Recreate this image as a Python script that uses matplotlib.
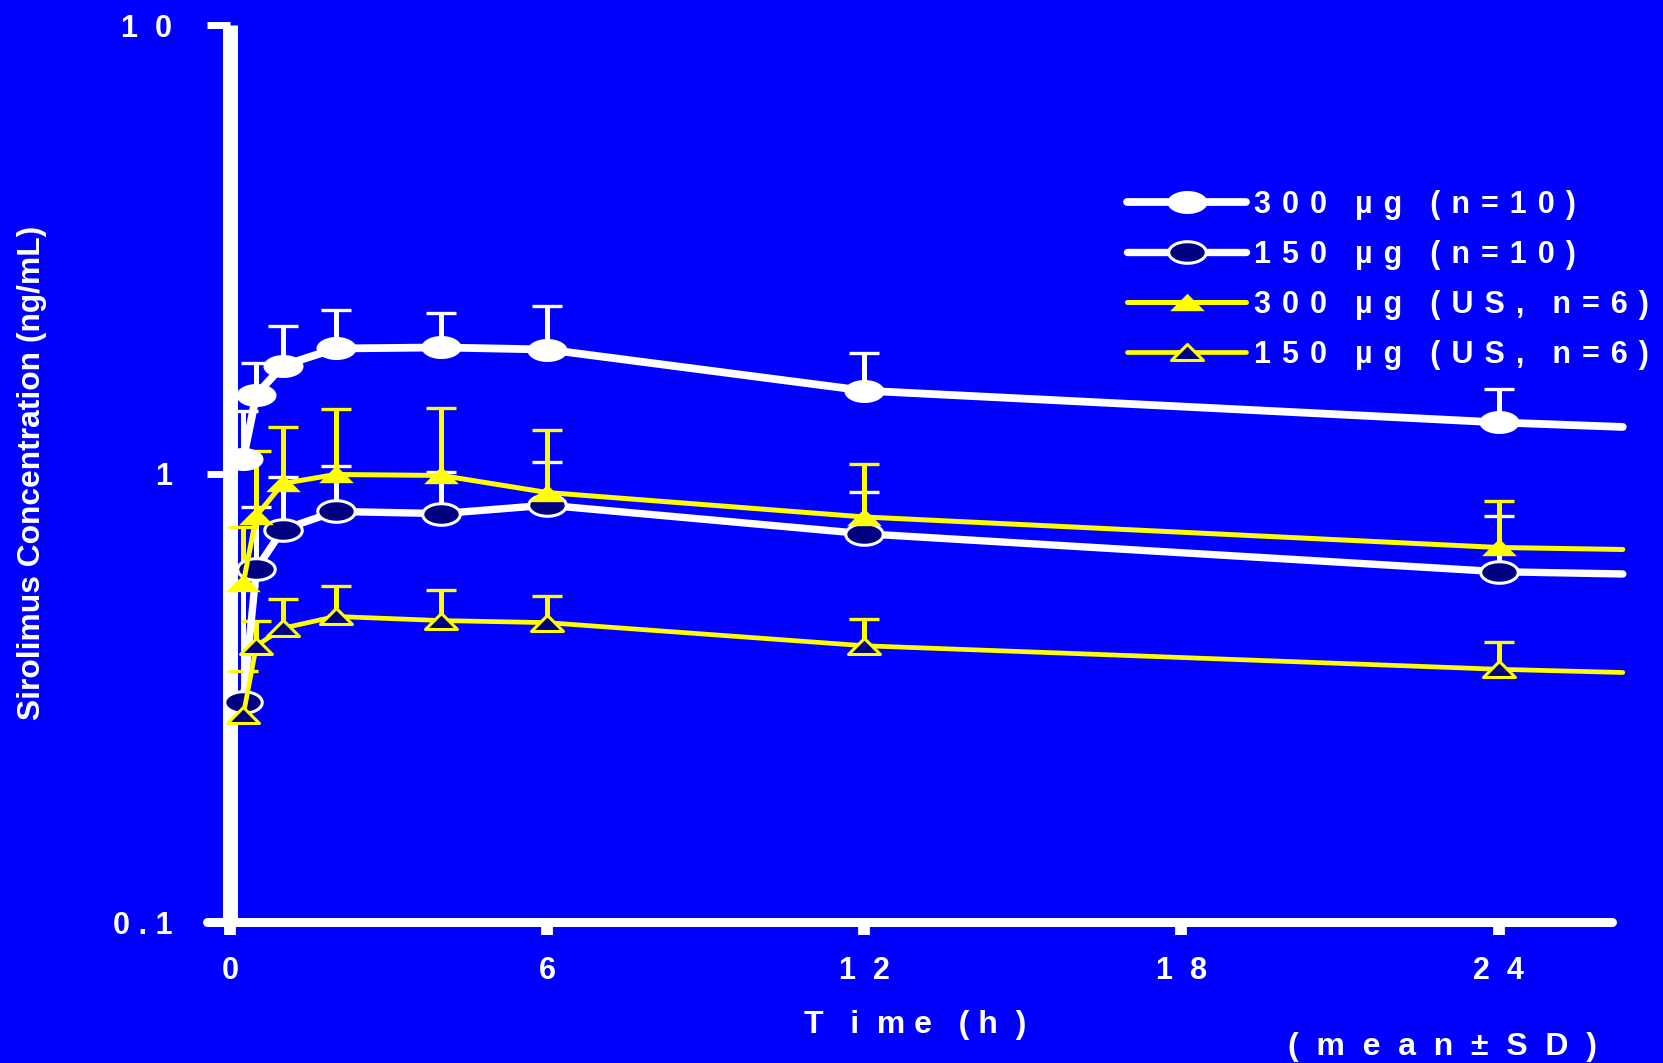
import numpy as np
import matplotlib
matplotlib.use('Agg')
import matplotlib.pyplot as plt
from matplotlib.path import Path
from matplotlib.ticker import NullLocator

# sampling times (h) and a tail point where the curves leave the plot
time_h = [0.25, 0.5, 1, 2, 4, 6, 12, 24]
t_tail = 26.35

# 300 ug (n=10)
conc_300 = [1.08, 1.50, 1.74, 1.90, 1.91, 1.89, 1.53, 1.30]
top_300 = [1.38, 1.76, 2.13, 2.31, 2.28, 2.36, 1.86, 1.54]
tail_300 = 1.27

# 150 ug (n=10)
conc_150 = [0.309, 0.613, 0.75, 0.823, 0.814, 0.85, 0.734, 0.604]
top_150 = [0.56, 0.843, 0.98, 1.04, 1.01, 1.06, 0.91, 0.805]
tail_150 = 0.597

# 300 ug (US, n=6)
conc_300us = [0.569, 0.805, 0.95, 0.995, 0.99, 0.907, 0.80, 0.684]
top_300us = [0.76, 1.12, 1.27, 1.395, 1.40, 1.25, 1.05, 0.868]
tail_300us = 0.677

# 150 ug (US, n=6)
conc_150us = [0.289, 0.413, 0.452, 0.48, 0.47, 0.465, 0.413, 0.366]
top_150us = [0.362, 0.47, 0.524, 0.561, 0.55, 0.533, 0.475, 0.422]
tail_150us = 0.36

labels = ['300 µg (n=10)', '150 µg (n=10)', '300 µg (US, n=6)', '150 µg (US, n=6)']

x_ticks = [0, 6, 12, 18, 24]
x_ticklabels = ['0', '6', '1  2', '1  8', '2  4']
y_ticks = [0.1, 1, 10]
y_ticklabels = ['0 . 1', '1', '1  0']

BLUE = '#0000ff'
NAVY = '#000080'
YEL = '#ffff00'

plt.rcParams['font.family'] = ['Liberation Sans', 'DejaVu Sans']
plt.rcParams['font.weight'] = 'bold'


def spread(s):
    # wide letter spacing like the original slide
    out = ''
    for c in s:
        if c == ' ':
            out += '  '
        else:
            out += c + ' \u200a'
    return out.rstrip()


# flat ellipse and flat triangle markers
th = np.linspace(0, 2 * np.pi, 60)
ellipse = Path(np.column_stack([np.cos(th), 0.575 * np.sin(th)]), closed=True)
tri = Path([(-1, -0.5), (1, -0.5), (0, 0.5), (-1, -0.5)], closed=True)

fig = plt.figure(figsize=(16.63, 10.63), dpi=100, facecolor=BLUE)
ax = fig.add_axes([0.1383, 0.13264, 0.8423, 0.84384])
ax.set_facecolor(BLUE)
ax.set_yscale('log')
ax.set_ylim(0.1, 10)
ax.set_xlim(0, 26.5)
for s in ax.spines.values():
    s.set_visible(False)

# axis lines
ax.plot([0, 0], [0.1, 10], color='white', lw=10.8, solid_capstyle='butt',
        clip_on=False, zorder=1)
ax.plot([-0.43, 26.14], [0.1, 0.1], color='white', lw=6.5,
        solid_capstyle='round', clip_on=False, zorder=1)

ax.set_xticks(x_ticks)
ax.set_xticklabels(x_ticklabels, fontweight='bold')
ax.set_yticks(y_ticks)
ax.set_yticklabels(y_ticklabels, fontweight='bold')
ax.yaxis.set_minor_locator(NullLocator())
ax.tick_params(axis='y', direction='out', length=16.5, width=5, color='white',
               pad=25, labelsize=22, labelcolor='white')
ax.tick_params(axis='x', direction='out', length=9.5, width=8.5, color='white',
               pad=15, labelsize=22, labelcolor='white')

series = [
    (conc_300, top_300, tail_300, 'white', 5.6, dict(marker=ellipse, ms=28.8, mfc='white', mec='white', mew=0)),
    (conc_150, top_150, tail_150, 'white', 5.3, dict(marker=ellipse, ms=27, mfc=NAVY, mec='white', mew=2.2)),
    (conc_300us, top_300us, tail_300us, YEL, 3.6, dict(marker=tri, ms=25, mfc=YEL, mec=YEL, mew=0)),
    (conc_150us, top_150us, tail_150us, YEL, 3.4, dict(marker=tri, ms=23, mfc=NAVY, mec=YEL, mew=2.2)),
]

handles = []
for i, (conc, top, tail, col, lw, mk) in enumerate(series):
    z = 3 if col == 'white' else 5
    # upper SD bars
    ax.vlines(time_h, conc, top, color=col, lw=3.6, zorder=2, clip_on=False)
    ax.plot(time_h, top, ls='none', marker='_', ms=21.6, mew=2.4, color=col,
            zorder=2, clip_on=False)
    line, = ax.plot(time_h + [t_tail], conc + [tail], color=col, lw=lw,
                    solid_capstyle='round', zorder=z, clip_on=False)
    pts, = ax.plot(time_h, conc, ls='none', zorder=z + 0.5, clip_on=False, **mk)
    handles.append((line, pts))

leg = ax.legend(handles, [spread(l) for l in labels], loc='upper left',
                bbox_to_anchor=(1127 / 1663, 1 - 190 / 1063),
                bbox_transform=fig.transFigure, frameon=False,
                handlelength=3.9, handletextpad=0.25, labelspacing=0.65,
                borderpad=0, borderaxespad=0, numpoints=1,
                prop=dict(size=22, weight='bold'), labelcolor='white')

fig.text(32 / 1663, 1 - 473 / 1063, 'Sirolimus Concentration (ng/mL)',
         rotation=90, ha='center', va='center', color='white',
         fontsize=22.9, fontweight='bold')
fig.text(915 / 1663, 1 - 1025 / 1063, 'T   i  m e   ( h  )', ha='center',
         va='center', color='white', fontsize=23, fontweight='bold')
fig.text(1443 / 1663, 1 - 1047 / 1063, '(  m  e  a  n  ±  S  D  )', ha='center',
         va='center', color='white', fontsize=23, fontweight='bold')

fig.savefig('out.png', dpi=100, facecolor=BLUE)
